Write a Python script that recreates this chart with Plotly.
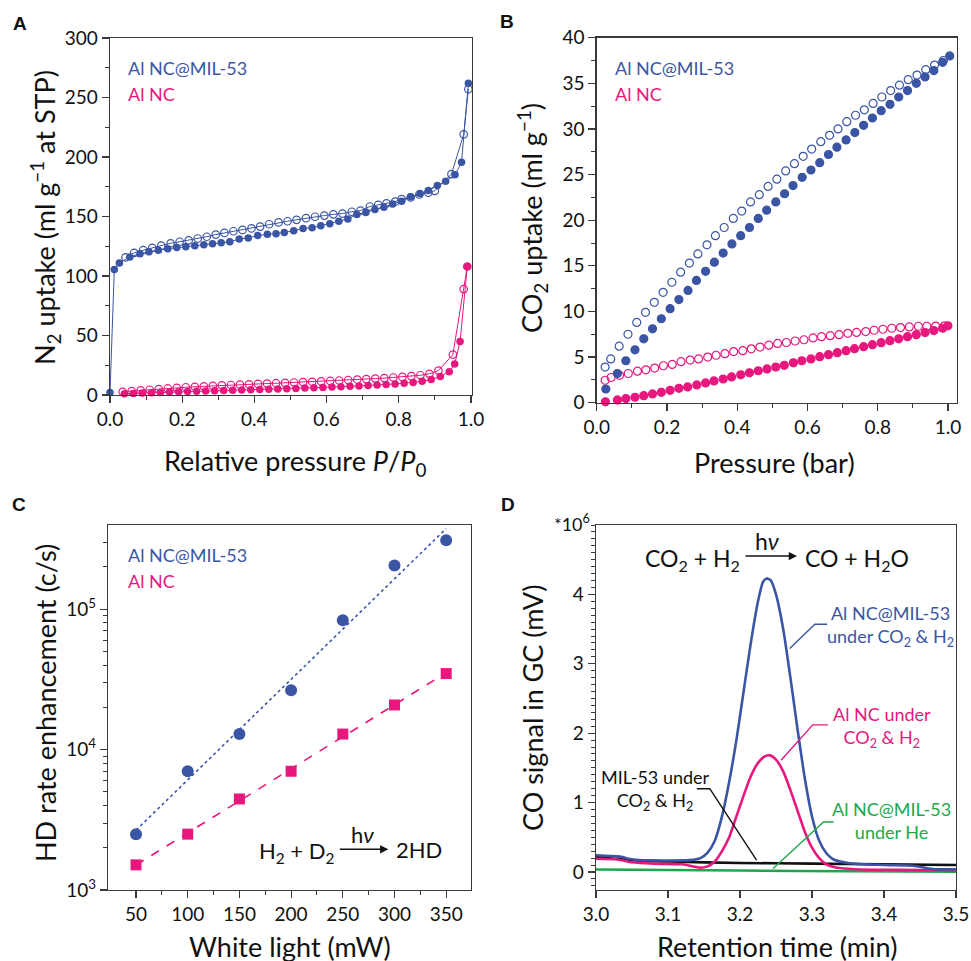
import numpy as np
import plotly.graph_objects as go

W, H = 971, 961
FONT = "Lato"
BLUE = "#3b55a5"
PINK = "#e8177d"
GREEN = "#1ca84a"
BLACK = "#111111"
AX = "#3a3a3a"

# ---------------- Panel A: N2 isotherms ----------------
a_mof_ads_x = [0.0, 0.012, 0.026, 0.055, 0.083, 0.108, 0.134, 0.16, 0.185, 0.21, 0.235, 0.26, 0.284, 0.308,
               0.332, 0.358, 0.383, 0.409, 0.436, 0.46, 0.483, 0.509, 0.535, 0.56, 0.584, 0.609, 0.634, 0.659,
               0.684, 0.709, 0.734, 0.759, 0.783, 0.808, 0.833, 0.859, 0.882, 0.907, 0.93, 0.956, 0.974, 0.993]
a_mof_ads_y = [2.2, 105.5, 111, 116, 118.7, 120.3, 121.7, 122.9, 124, 124.5, 125.4, 126.2, 127, 127.9,
               128.7, 131, 132, 134, 135, 135.5, 136.6, 138, 140, 140.5, 142.2, 144, 146, 148,
               151.7, 153.4, 155.9, 157.8, 160.4, 162.9, 166.5, 169.3, 171.8, 176, 179.7, 185, 195.6, 262]
a_mof_des_x = [0.043, 0.067, 0.092, 0.117, 0.142, 0.168, 0.193, 0.218, 0.243, 0.268, 0.293, 0.317, 0.342,
               0.367, 0.392, 0.416, 0.441, 0.467, 0.492, 0.517, 0.543, 0.568, 0.594, 0.619, 0.644, 0.67,
               0.694, 0.72, 0.743, 0.766, 0.79, 0.808, 0.833, 0.857, 0.882, 0.9, 0.946, 0.98, 0.993]
a_mof_des_y = [115.6, 119.5, 121.7, 123.7, 125.5, 127.5, 128.8, 130, 131.5, 133, 134.8, 136.2, 137.6,
               138.7, 140, 141.5, 143.5, 145, 146, 147.2, 148.6, 149.8, 150.8, 151.8, 152.5, 154,
               155, 158.4, 159.8, 161, 162.5, 164.6, 166, 168.5, 170, 171.6, 185.6, 219, 257]
a_nc_ads_x = [0.04, 0.065, 0.09, 0.115, 0.14, 0.165, 0.19, 0.215, 0.24, 0.265, 0.29, 0.315, 0.34, 0.365,
              0.39, 0.415, 0.44, 0.465, 0.49, 0.515, 0.54, 0.565, 0.59, 0.615, 0.64, 0.665, 0.69, 0.715,
              0.74, 0.765, 0.79, 0.815, 0.84, 0.865, 0.89, 0.915, 0.94, 0.955, 0.97, 0.99]
a_nc_ads_y = [1.0, 1.3, 1.6, 1.9, 2.2, 2.5, 2.8, 3.0, 3.2, 3.4, 3.6, 3.8, 4.0, 4.2,
              4.4, 4.6, 4.8, 5.0, 5.2, 5.5, 5.8, 6.1, 6.4, 6.7, 7.0, 7.3, 7.6, 8.0,
              8.4, 8.8, 9.3, 9.9, 10.6, 11.5, 13.0, 15.5, 19.5, 26, 45, 108]
a_nc_des_x = [0.035, 0.06, 0.085, 0.11, 0.135, 0.16, 0.185, 0.21, 0.235, 0.26, 0.285, 0.31, 0.335, 0.36,
              0.385, 0.41, 0.435, 0.46, 0.485, 0.51, 0.535, 0.56, 0.585, 0.61, 0.635, 0.66, 0.685, 0.71,
              0.735, 0.76, 0.785, 0.81, 0.835, 0.86, 0.885, 0.91, 0.95, 0.98, 0.99]
a_nc_des_y = [2.7, 3.3, 3.9, 4.4, 5.0, 5.5, 6.0, 6.5, 6.9, 7.3, 7.7, 8.1, 8.4, 8.7,
              9.0, 9.3, 9.6, 9.9, 10.2, 10.5, 10.8, 11.1, 11.4, 11.8, 12.2, 12.6, 13.0, 13.4,
              13.8, 14.2, 14.7, 15.2, 15.8, 16.6, 17.8, 20.5, 34, 89, 108]

# ---------------- Panel B: CO2 isotherms ----------------
b_mof_ads_x = [0.026, 0.059, 0.083, 0.109, 0.134, 0.159, 0.184, 0.209, 0.234, 0.26, 0.284, 0.31, 0.335, 0.36,
               0.385, 0.41, 0.435, 0.46, 0.484, 0.51, 0.535, 0.559, 0.585, 0.61, 0.635, 0.66, 0.684, 0.71,
               0.735, 0.76, 0.785, 0.81, 0.835, 0.86, 0.885, 0.91, 0.935, 0.96, 0.985, 1.005]
b_mof_ads_y = [1.5, 3.2, 4.6, 5.8, 7.0, 8.1, 9.2, 10.3, 11.3, 12.3, 13.4, 14.4, 15.4, 16.4,
               17.4, 18.3, 19.2, 20.2, 21.1, 22.0, 22.9, 23.8, 24.7, 25.5, 26.3, 27.2, 28.0, 28.8,
               29.6, 30.4, 31.2, 32.0, 32.7, 33.5, 34.2, 35.0, 35.7, 36.4, 37.3, 38.0]
b_mof_des_x = [0.024, 0.04, 0.064, 0.089, 0.114, 0.139, 0.164, 0.189, 0.214, 0.239, 0.264, 0.288, 0.314,
               0.338, 0.363, 0.389, 0.413, 0.438, 0.463, 0.488, 0.513, 0.538, 0.563, 0.588, 0.612, 0.638,
               0.663, 0.687, 0.712, 0.737, 0.762, 0.787, 0.812, 0.837, 0.862, 0.887, 0.912, 0.937, 0.962, 0.987]
b_mof_des_y = [3.9, 4.8, 6.2, 7.5, 8.8, 9.9, 11.0, 12.1, 13.2, 14.3, 15.3, 16.3, 17.3,
               18.3, 19.2, 20.2, 21.0, 22.0, 22.8, 23.7, 24.5, 25.4, 26.2, 27.0, 27.8, 28.6,
               29.3, 30.0, 30.8, 31.5, 32.1, 32.8, 33.5, 34.2, 34.8, 35.4, 35.9, 36.5, 37.0, 37.5]
b_nc_ads_x = [0.025, 0.059, 0.083, 0.109, 0.134, 0.159, 0.184, 0.209, 0.234, 0.259, 0.285, 0.31, 0.334, 0.36,
              0.384, 0.41, 0.435, 0.46, 0.485, 0.51, 0.534, 0.56, 0.584, 0.61, 0.635, 0.66, 0.685, 0.71,
              0.734, 0.76, 0.785, 0.81, 0.835, 0.86, 0.885, 0.91, 0.935, 0.96, 0.985, 1.0]
b_nc_ads_y = [0.1, 0.3, 0.45, 0.6, 0.77, 0.96, 1.14, 1.36, 1.58, 1.73, 1.95, 2.17, 2.39, 2.6,
              2.83, 3.05, 3.27, 3.5, 3.7, 3.9, 4.1, 4.37, 4.6, 4.8, 5.04, 5.26, 5.48, 5.7,
              5.92, 6.14, 6.36, 6.58, 6.8, 7.0, 7.24, 7.46, 7.68, 7.9, 8.16, 8.42]
b_nc_des_x = [0.024, 0.041, 0.065, 0.09, 0.116, 0.14, 0.165, 0.19, 0.215, 0.24, 0.266, 0.29, 0.316, 0.34,
              0.365, 0.39, 0.416, 0.44, 0.465, 0.49, 0.515, 0.54, 0.565, 0.59, 0.616, 0.64, 0.665, 0.69,
              0.715, 0.74, 0.766, 0.79, 0.815, 0.84, 0.865, 0.89, 0.916, 0.94, 0.965, 0.99]
b_nc_des_y = [2.46, 2.76, 3.0, 3.2, 3.45, 3.6, 3.8, 4.05, 4.2, 4.5, 4.67, 4.8, 5.0, 5.2,
              5.37, 5.6, 5.7, 5.9, 6.1, 6.3, 6.5, 6.6, 6.76, 6.9, 7.1, 7.24, 7.35, 7.46,
              7.6, 7.7, 7.8, 7.94, 8.05, 8.16, 8.23, 8.3, 8.38, 8.38, 8.4, 8.42]

# ---------------- Panel C: HD rate ----------------
c_power = [50, 100, 150, 200, 250, 300, 350]
c_mof = [2500, 7000, 12900, 26500, 83600, 205000, 310000]
c_nc = [1510, 2500, 4450, 7010, 12900, 20800, 34800]

# ---------------- Panel D: GC traces ----------------
d_mof_x = [3.0, 3.02, 3.035, 3.045, 3.06, 3.1, 3.13, 3.145, 3.155, 3.165, 3.175, 3.185, 3.195, 3.205,
           3.215, 3.225, 3.232, 3.237, 3.243, 3.25, 3.26, 3.27, 3.28, 3.29, 3.3, 3.31, 3.32, 3.33,
           3.35, 3.4, 3.44, 3.47, 3.5]
d_mof_y = [0.24, 0.23, 0.22, 0.19, 0.17, 0.165, 0.17, 0.2, 0.28, 0.45, 0.8, 1.3, 1.9, 2.6,
           3.3, 3.9, 4.18, 4.23, 4.2, 4.0, 3.5, 2.8, 2.05, 1.35, 0.8, 0.45, 0.27, 0.18,
           0.13, 0.1, 0.09, 0.04, 0.04]
d_nc_x = [3.0, 3.03, 3.05, 3.08, 3.12, 3.135, 3.145, 3.155, 3.165, 3.175, 3.185, 3.195, 3.205, 3.215,
          3.225, 3.235, 3.242, 3.25, 3.26, 3.27, 3.28, 3.29, 3.3, 3.31, 3.32, 3.335, 3.36, 3.42, 3.5]
d_nc_y = [0.19, 0.18, 0.14, 0.12, 0.11, 0.08, 0.06, 0.08, 0.15, 0.3, 0.5, 0.8, 1.1, 1.38,
          1.57, 1.67, 1.68, 1.62, 1.45, 1.18, 0.88, 0.58, 0.35, 0.2, 0.11, 0.06, 0.04, 0.03, 0.02]
d_mil_x = [3.0, 3.05, 3.1, 3.2, 3.3, 3.4, 3.5]
d_mil_y = [0.22, 0.17, 0.15, 0.13, 0.12, 0.11, 0.10]
d_he_x = [3.0, 3.1, 3.2, 3.35, 3.5]
d_he_y = [0.035, 0.028, 0.02, 0.01, 0.005]
d_ticks = [0, 1, 2, 3, 4]


def X(px):
    return px / W


def Y(py):
    return 1 - py / H


fig = go.Figure()

# --- A traces
fig.add_trace(go.Scatter(x=a_nc_des_x, y=a_nc_des_y, mode="lines+markers", xaxis="x", yaxis="y",
                         line=dict(color=PINK, width=1),
                         marker=dict(symbol="circle-open", size=7.5, color=PINK, line=dict(width=1.2))))
fig.add_trace(go.Scatter(x=a_nc_ads_x, y=a_nc_ads_y, mode="lines+markers", xaxis="x", yaxis="y",
                         line=dict(color=PINK, width=1),
                         marker=dict(symbol="circle", size=7.5, color=PINK)))
fig.add_trace(go.Scatter(x=a_mof_des_x, y=a_mof_des_y, mode="lines+markers", xaxis="x", yaxis="y",
                         line=dict(color=BLUE, width=1),
                         marker=dict(symbol="circle-open", size=7.5, color=BLUE, line=dict(width=1.2))))
fig.add_trace(go.Scatter(x=a_mof_ads_x, y=a_mof_ads_y, mode="lines+markers", xaxis="x", yaxis="y",
                         line=dict(color=BLUE, width=1),
                         marker=dict(symbol="circle", size=7.5, color=BLUE)))

# --- B traces
for xs, ys, col, sym in [(b_nc_des_x, b_nc_des_y, PINK, "circle-open"),
                         (b_nc_ads_x, b_nc_ads_y, PINK, "circle"),
                         (b_mof_des_x, b_mof_des_y, BLUE, "circle-open"),
                         (b_mof_ads_x, b_mof_ads_y, BLUE, "circle")]:
    fig.add_trace(go.Scatter(x=xs, y=ys, mode="markers", xaxis="x2", yaxis="y2",
                             marker=dict(symbol=sym, size=8, color=col, line=dict(width=1.2, color=col))))

# --- C traces: log-linear fits + points
cx = np.array(c_power, dtype=float)
for vals, col, dash in [(c_mof, BLUE, "dot"), (c_nc, PINK, "dash")]:
    k, b = np.polyfit(cx, np.log10(vals), 1)
    fig.add_trace(go.Scatter(x=cx, y=10 ** (k * cx + b), mode="lines", xaxis="x3", yaxis="y3",
                             line=dict(color=col, width=1.6, dash=dash)))
fig.add_trace(go.Scatter(x=c_power, y=c_mof, mode="markers", xaxis="x3", yaxis="y3",
                         marker=dict(symbol="circle", size=12, color=BLUE)))
fig.add_trace(go.Scatter(x=c_power, y=c_nc, mode="markers", xaxis="x3", yaxis="y3",
                         marker=dict(symbol="square", size=11, color=PINK)))

# --- D traces
for xs, ys, col in [(d_he_x, d_he_y, GREEN), (d_mil_x, d_mil_y, BLACK),
                    (d_nc_x, d_nc_y, PINK), (d_mof_x, d_mof_y, BLUE)]:
    fig.add_trace(go.Scatter(x=xs, y=ys, mode="lines", xaxis="x4", yaxis="y4",
                             line=dict(color=col, width=2.6, shape="spline", smoothing=0.6)))

fig.update_traces(cliponaxis=False, showlegend=False, hoverinfo="skip")
for tr in fig.data:
    if tr.xaxis == "x4":
        tr.cliponaxis = True

tickfont = dict(family=FONT, size=19, color="#111")
base = dict(showline=True, linecolor=AX, linewidth=1.3, mirror=True, ticks="outside",
            ticklen=7, tickwidth=1.2, tickcolor=AX, tickfont=tickfont, showgrid=False,
            zeroline=False, fixedrange=True, automargin=False)


def minor(**kw):
    d = dict(ticks="outside", ticklen=4, tickwidth=1, tickcolor=AX, showgrid=False)
    d.update(kw)
    return d


layout = dict(
    width=W, height=H, autosize=False,
    margin=dict(l=0, r=0, t=0, b=0, pad=0, autoexpand=False),
    paper_bgcolor="white", plot_bgcolor="white", showlegend=False,
    xaxis=dict(base, domain=[X(110), X(472)], range=[0, 1.003], dtick=0.2, tickformat=".1f",
               minor=minor(dtick=0.1), anchor="y"),
    yaxis=dict(base, domain=[Y(395), Y(38)], range=[0, 300], dtick=50, minor=minor(dtick=25), anchor="x"),
    xaxis2=dict(base, domain=[X(596.7), X(956.7)], range=[0, 1.025], dtick=0.2, tickformat=".1f",
                minor=minor(dtick=0.1), anchor="y2"),
    yaxis2=dict(base, domain=[Y(402.7), Y(37.7)], range=[0, 40], dtick=5, minor=minor(dtick=2.5), anchor="x2"),
    xaxis3=dict(base, domain=[X(108), X(471)], range=[22.9, 374], tickvals=c_power,
                minor=minor(tickvals=[75, 125, 175, 225, 275, 325]), anchor="y3"),
    yaxis3=dict(base, domain=[Y(890), Y(525)], type="log", range=[3, 5.6],
                tickvals=[1e3, 1e4, 1e5], ticktext=["10<sup>3</sup>", "10<sup>4</sup>", "10<sup>5</sup>"],
                minor=minor(tickvals=[m * 10 ** e for e in (3, 4, 5) for m in range(2, 10) if m * 10 ** e < 4e5]),
                anchor="x3"),
    xaxis4=dict(base, domain=[X(596), X(956)], range=[3.0, 3.5], dtick=0.1, tickformat=".1f", anchor="y4"),
    yaxis4=dict(base, domain=[Y(890), Y(525)], range=[-0.26, 5.0], tickvals=d_ticks,
                minor=minor(dtick=0.1, tick0=0), anchor="x4"),
)
fig.update_layout(**layout)

ann = []


def text(px, py, s, size=18, color="#111", xanchor="center", angle=0, bold=False):
    ann.append(dict(x=X(px), y=Y(py), xref="paper", yref="paper", text=("<b>%s</b>" % s) if bold else s,
                    showarrow=False, xanchor=xanchor, yanchor="middle", textangle=angle,
                    font=dict(family=FONT if not bold else "Liberation Sans", size=size, color=color)))


def arrow(x0, x1, py):
    ann.append(dict(x=X(x1), y=Y(py), xref="paper", yref="paper", ax=-(x1 - x0), ay=0, axref="pixel",
                    ayref="pixel", showarrow=True, arrowhead=2, arrowsize=1.1, arrowwidth=1.5,
                    arrowcolor="#111", text=""))


TT = 27  # axis title size

# panel letters
text(19.5, 23, "A", 19, bold=True)
text(506.5, 21.5, "B", 19, bold=True)
text(18.5, 505, "C", 19, bold=True)
text(507.5, 505, "D", 19, bold=True)

# axis titles
text(45, 218, "N<sub>2</sub> uptake (ml g<sup>\u22121</sup> at STP)", TT, angle=-90)
text(295, 462, "Relative pressure <i>P</i>/<i>P</i><sub>0</sub>", TT)
text(532, 218, "CO<sub>2</sub> uptake (ml g<sup>\u22121</sup>)", TT, angle=-90)
text(774, 463, "Pressure (bar)", TT)
text(45, 703, "HD rate enhancement (c/s)", TT, angle=-90)
text(290, 946, "White light (mW)", TT)
text(532, 708, "CO signal in GC (mV)", TT, angle=-90)
text(777, 946, "Retention time (min)", TT)

# legends
for px, py in [(126, 68), (612.7, 68), (126, 555)]:
    text(px, py, "Al NC@MIL-53", 18, BLUE, xanchor="left")
    text(px, py + 26, "Al NC", 18, PINK, xanchor="left")

# panel C equation
text(336.7, 852, "H<sub>2</sub> + D<sub>2</sub>", 22, xanchor="right")
arrow(338.3, 388.3, 849.3)
text(362, 834, "h<i>\u03bd</i>", 22)
text(394, 849.5, "2HD", 22, xanchor="left")

# panel D equation
text(742, 559, "CO<sub>2</sub> + H<sub>2</sub>", 23, xanchor="right")
arrow(744, 797, 556)
text(767, 541, "h<i>\u03bd</i>", 23)
text(803, 559, "CO + H<sub>2</sub>O", 23, xanchor="left")
text(571.5, 523, "*10<sup>6</sup>", 18)

# panel D labels
text(890, 626, "Al NC@MIL-53<br>under CO<sub>2</sub> &amp; H<sub>2</sub>", 18, BLUE)
text(881.7, 727, "Al NC under<br>CO<sub>2</sub> &amp; H<sub>2</sub>", 18, PINK)
text(655, 790, "MIL-53 under<br>CO<sub>2</sub> &amp; H<sub>2</sub>", 18, "#111")
text(891, 820, "Al NC@MIL-53<br>under He", 18, GREEN)

fig.update_layout(annotations=ann)

# connector lines in panel D (data coordinates of axis 4)
conn = [
    ([3.269, 3.304, 3.321], [3.22, 3.57, 3.57], BLUE),
    ([3.257, 3.301, 3.322], [1.61, 2.12, 2.12], PINK),
    ([3.14, 3.158, 3.223], [1.2, 1.2, 0.17], "#111"),
    ([3.246, 3.316, 3.33], [0.05, 0.72, 0.72], GREEN),
]
shapes = []
for xs, ys, col in conn:
    path = "M %f,%f L %f,%f L %f,%f" % (xs[0], ys[0], xs[1], ys[1], xs[2], ys[2])
    shapes.append(dict(type="path", path=path, xref="x4", yref="y4", line=dict(color=col, width=1.4)))
fig.update_layout(shapes=shapes)

fig.write_html("out.html",
               config={"displayModeBar": False, "staticPlot": True},
               post_script="document.body.style.margin='0';document.body.style.padding='0';"
                           "document.body.style.overflow='hidden';")
